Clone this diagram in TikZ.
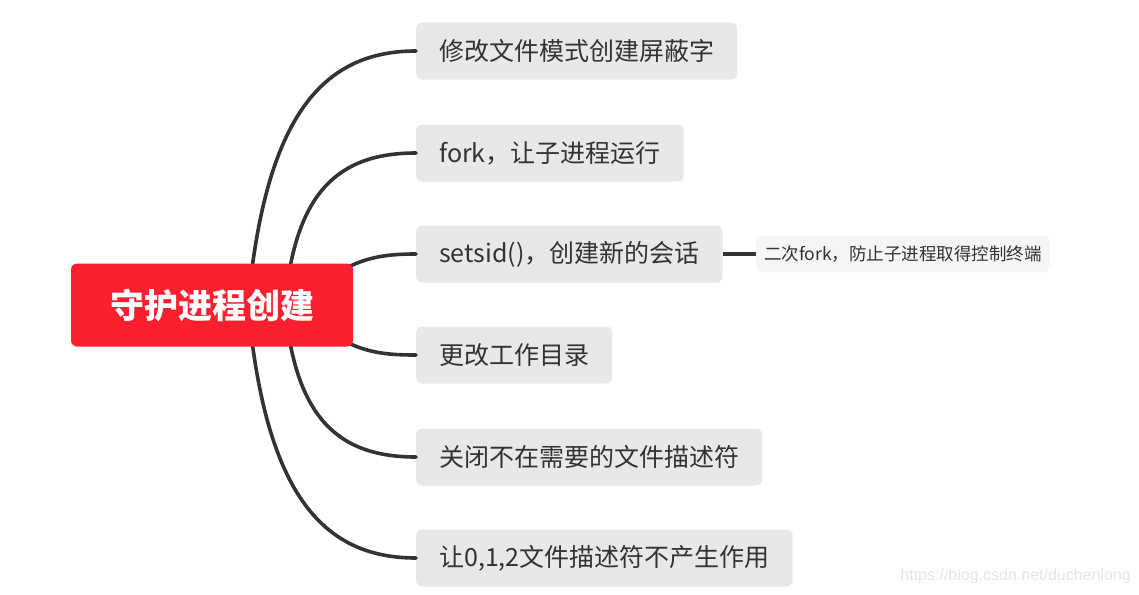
\documentclass[tikz,border=0pt]{standalone}
\usepackage{fontspec}
\newfontfamily\cjk{Noto Sans CJK SC}
\newfontfamily\wmfont{Liberation Sans}
\definecolor{rootred}{RGB}{250,32,48}
\definecolor{linegray}{RGB}{51,51,51}
\definecolor{boxgray}{RGB}{232,232,232}
\definecolor{subgray}{RGB}{245,245,245}
\definecolor{txtgray}{RGB}{51,51,51}
\definecolor{wmgray}{RGB}{230,230,230}
\begin{document}
\begin{tikzpicture}[x=1pt,y=-1pt,
  rootbox/.style={fill=rootred,rounded corners=6pt,minimum width=282pt,minimum height=83pt,inner sep=0pt,text=white,font=\cjk\bfseries\fontsize{34}{40}\selectfont},
  childbox/.style={fill=boxgray,rounded corners=6pt,anchor=west,minimum height=57pt,inner xsep=23pt,inner ysep=0pt,text=txtgray,font=\cjk\fontsize{25}{30}\selectfont},
  subbox/.style={fill=subgray,rounded corners=6pt,anchor=west,minimum height=36pt,inner xsep=8pt,inner ysep=0pt,text=txtgray,font=\cjk\fontsize{17.5}{21}\selectfont},
  branch/.style={draw=linegray,line width=3.6pt,line cap=round},
]
\useasboundingbox (0,0) rectangle (1139,594);
\node[childbox] (c1) at (416,51) {修改文件模式创建屏蔽字};
\node[childbox] (c2) at (416,153) {fork，让子进程运行};
\node[childbox] (c3) at (416,254) {setsid()，创建新的会话};
\node[childbox] (c4) at (416,355) {更改工作目录};
\node[childbox] (c5) at (416,457) {关闭不在需要的文件描述符};
\node[childbox] (c6) at (416,558) {让0,1,2文件描述符不产生作用};
\node[subbox] (s1) at (756,254) {二次fork，防止子进程取得控制终端};
\coordinate (r1) at (248,305);
\coordinate (r2) at (285,305);
\coordinate (r3) at (330,278);
\coordinate (r4) at (330,332);
\draw[branch] (r1) .. controls (265,120) and (320,51) .. (c1.west);
\draw[branch] (r2) .. controls (295,190) and (340,153) .. (c2.west);
\draw[branch] (r3) .. controls (360,257) and (385,254) .. (c3.west);
\draw[branch] (r4) .. controls (360,353) and (385,355) .. (c4.west);
\draw[branch] (r2) .. controls (295,420) and (340,457) .. (c5.west);
\draw[branch] (r1) .. controls (265,490) and (320,558) .. (c6.west);
\draw[branch,line cap=butt] (c3.east) -- (s1.west);
\node[rootbox] (root) at (212,305) {守护进程创建};
\node[anchor=east,text=wmgray,font=\wmfont\fontsize{16}{19}\selectfont,inner sep=0pt] (wm) at (1131,576) {https://blog.csdn.net/duchenlong};
\end{tikzpicture}
\end{document}
